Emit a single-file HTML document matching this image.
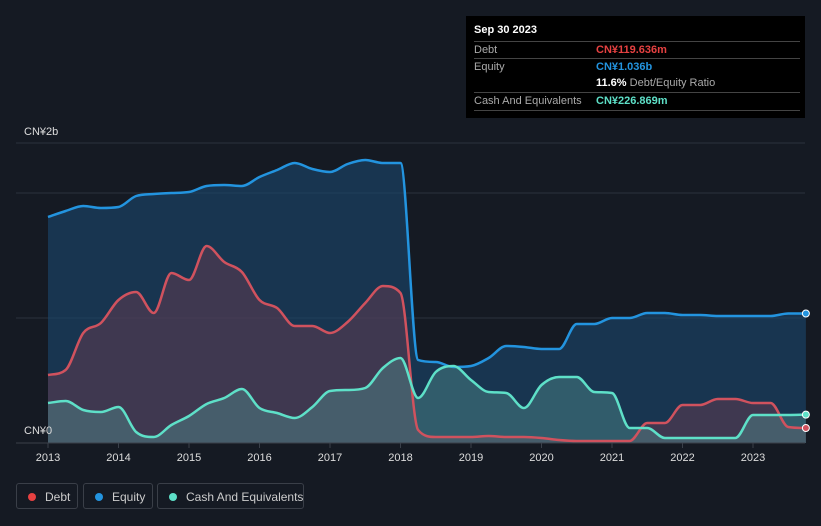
<!DOCTYPE html>
<html><head><meta charset="utf-8"><style>
body{margin:0;background:#151a23;font-family:"Liberation Sans",sans-serif;}
#wrap{position:relative;width:821px;height:526px;overflow:hidden;background:#151a23;}
.tip{position:absolute;left:466px;top:16px;width:339px;height:102px;background:#000;color:#fff;font-size:11px;}
.row{position:absolute;left:8px;width:326px;height:17px;border-top:1px solid #444;}
.lab{position:absolute;left:0;top:2px;color:#aaa;}
.val{position:absolute;left:122px;top:2px;font-weight:bold;}
.leg{position:absolute;top:483px;height:26px;border:1px solid #3a3f48;border-radius:3px;color:#ccc;font-size:12px;box-sizing:border-box;white-space:nowrap;}
.leg span.d{position:absolute;left:11px;top:9px;width:8px;height:8px;border-radius:50%;}
.leg span.t{position:absolute;left:28px;top:6px;}
</style></head><body>
<div id="wrap">
<svg id="chart" width="821" height="526" style="position:absolute;left:0;top:0"></svg>
<div class="tip">
 <div style="position:absolute;left:8px;top:8px;font-weight:bold;font-size:11px">Sep 30 2023</div>
 <div class="row" style="top:25px"><span class="lab">Debt</span><span class="val" style="color:#e64141">CN¥119.636m</span></div>
 <div class="row" style="top:42px"><span class="lab">Equity</span><span class="val" style="color:#2394df">CN¥1.036b</span></div>
 <div class="row" style="top:59px;border:none"><span class="val" style="color:#fff">11.6% <span style="color:#aaa;font-weight:normal">Debt/Equity Ratio</span></span></div>
 <div class="row" style="top:76px"><span class="lab">Cash And Equivalents</span><span class="val" style="color:#5ee0c8">CN¥226.869m</span></div>
 <div class="row" style="top:94px;height:0"></div>
</div>
<div class="leg" style="left:16px;width:62px"><span class="d" style="background:#e64141"></span><span class="t">Debt</span></div>
<div class="leg" style="left:83px;width:70px"><span class="d" style="background:#2394df"></span><span class="t">Equity</span></div>
<div class="leg" style="left:157px;width:147px"><span class="d" style="background:#5ee0c8"></span><span class="t">Cash And Equivalents</span></div>
</div>
<script>
const years=[2013,2014,2015,2016,2017,2018,2019,2020,2021,2022,2023];
const equity=[1808,1856,1896,1880,1888,1976,1992,2000,2008,2056,2064,2056,2128,2184,2240,2192,2168,2232,2264,2240,2240,664,648,608,616,680,776,768,752,752,952,952,1000,1000,1040,1040,1024,1024,1016,1016,1016,1016,1036,1036];
const debt=[544,584,880,960,1144,1208,1040,1360,1304,1576,1448,1368,1144,1080,936,936,880,968,1120,1256,1200,104,48,48,48,56,48,48,40,24,16,16,16,16,160,160,304,304,352,352,320,320,128,120];
const cash=[320,336,264,248,288,88,48,144,216,312,360,432,280,240,200,288,416,424,440,600,680,360,568,616,504,408,400,280,464,528,528,408,400,120,120,40,40,40,40,40,224,224,224,227];
const yTicks=[0,1000,2000];
const NS="http://www.w3.org/2000/svg";
const svg=document.getElementById('chart');
const X=t=>48+(t-2013)*70.5;
const Y=v=>443-v*0.125;
function el(tag,a){const e=document.createElementNS(NS,tag);for(const k in a)e.setAttribute(k,a[k]);svg.appendChild(e);return e;}
function pts(arr){return arr.map((v,i)=>[X(2013+i*0.25),Y(v)]);}
function smooth(p){
 const n=p.length,d=[],m=[];
 for(let i=0;i<n-1;i++)d.push((p[i+1][1]-p[i][1])/(p[i+1][0]-p[i][0]));
 for(let i=0;i<n;i++){if(i==0)m.push(d[0]);else if(i==n-1)m.push(d[n-2]);else m.push(d[i-1]*d[i]<=0?0:(d[i-1]+d[i])/2);}
 for(let i=0;i<n-1;i++){
  if(d[i]===0){m[i]=0;m[i+1]=0;continue;}
  const a=m[i]/d[i],b=m[i+1]/d[i],s=a*a+b*b;
  if(s>9){const t=3/Math.sqrt(s);m[i]=t*a*d[i];m[i+1]=t*b*d[i];}
 }
 let s='M'+p[0][0]+','+p[0][1];
 for(let i=0;i<n-1;i++){const h=(p[i+1][0]-p[i][0])/3;
  s+=`C${p[i][0]+h},${p[i][1]+m[i]*h} ${p[i+1][0]-h},${p[i+1][1]-m[i+1]*h} ${p[i+1][0]},${p[i+1][1]}`;}
 return s;}
[143,193,318].forEach(y=>{const g=el('line',{x1:16,x2:805,y1:y,y2:y,stroke:'#2c323c','stroke-width':1});

});
const series=[[equity,'#2394df','rgba(27,72,110,0.6)','equity'],[debt,'#d0525e','rgba(110,60,80,0.45)','debt'],[cash,'#5ee0c8','rgba(80,140,140,0.45)','cash']];
series.forEach(([arr,col,fill,nm])=>{
 const p=pts(arr);const s=smooth(p);const last=p[p.length-1];
 const a=el('path',{d:s+`L${last[0]},443L${p[0][0]},443Z`,fill:fill});
 
 
});
series.forEach(([arr,col,fill,nm])=>{
 const p=pts(arr);
 const l=el('path',{d:smooth(p),fill:'none',stroke:col,'stroke-width':2.5});
 
 
 const last=p[p.length-1];
 const c=el('circle',{cx:last[0],cy:last[1],r:3.5,fill:col,stroke:'#fff','stroke-width':1});
 
 
});
const ax=el('line',{x1:16,x2:805,y1:443,y2:443,stroke:'#3a404a','stroke-width':1});


years.forEach(yr=>{
 const t=el('line',{x1:X(yr),x2:X(yr),y1:443,y2:448,stroke:'#3a404a'});
 
 
 const tx=el('text',{x:X(yr),y:461,fill:'#ddd','font-size':11,'text-anchor':'middle','font-family':'Liberation Sans, sans-serif'});
 tx.textContent=yr;
 
 
});
const yl=[['CN¥2b',135],['CN¥0',434]];
yl.forEach(([s,y])=>{const t=el('text',{x:24,y:y,fill:'#ddd','font-size':11,'font-family':'Liberation Sans, sans-serif'});t.textContent=s;

});
</script>
</body></html>
